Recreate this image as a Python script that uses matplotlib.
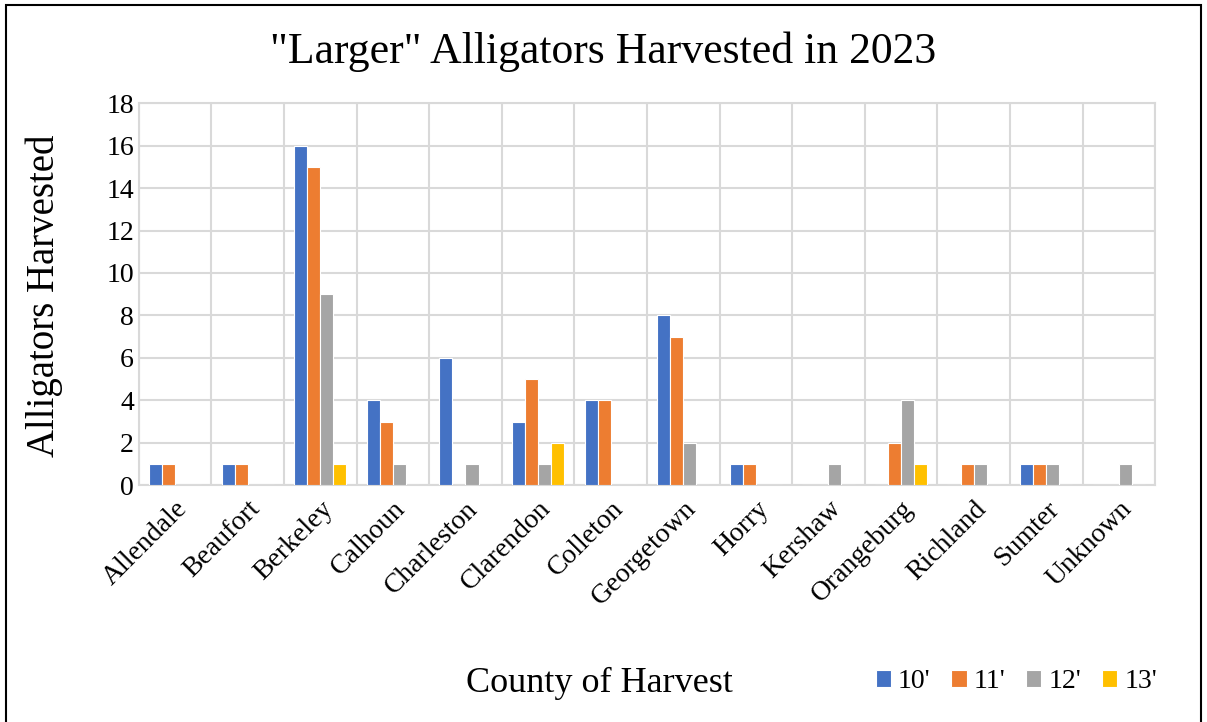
import numpy as np
import matplotlib.pyplot as plt
from matplotlib.patches import Rectangle

plt.rcParams['font.family'] = ['Liberation Serif', 'DejaVu Serif']

# datos
condados = ['Allendale', 'Beaufort', 'Berkeley', 'Calhoun', 'Charleston', 'Clarendon',
            'Colleton', 'Georgetown', 'Horry', 'Kershaw', 'Orangeburg', 'Richland',
            'Sumter', 'Unknown']
tallas = ["10'", "11'", "12'", "13'"]
pies_10 = [1, 1, 16, 4, 6, 3, 4, 8, 1, 0, 0, 0, 1, 0]
pies_11 = [1, 1, 15, 3, 0, 5, 4, 7, 1, 0, 2, 1, 1, 0]
pies_12 = [0, 0, 9, 1, 1, 1, 0, 2, 0, 1, 4, 1, 1, 1]
pies_13 = [0, 0, 1, 0, 0, 2, 0, 0, 0, 0, 1, 0, 0, 0]
colores = ['#4472C4', '#ED7D31', '#A5A5A5', '#FFC000']

fig = plt.figure(figsize=(12.07, 7.22), dpi=100)
ax = fig.add_axes([0.115, 0.328, 0.842, 0.529])

x = np.arange(len(condados))
ancho = 0.18
series = [pies_10, pies_11, pies_12, pies_13]
for i, (vals, col, lab) in enumerate(zip(series, colores, tallas)):
    ax.bar(x + (i - 1.5) * ancho, vals, ancho, color=col, edgecolor='white',
           linewidth=0.8, label=lab, zorder=3)

ax.set_xlim(-0.5, len(condados) - 0.5)
ax.set_ylim(0, 18)
ax.set_yticks(np.arange(0, 19, 2))
ax.set_xticks(x)
ax.set_xticklabels(condados, rotation=45, ha='right', rotation_mode='anchor')
ax.set_xticks(np.arange(-0.5, len(condados), 1), minor=True)
ax.tick_params(axis='both', which='both', length=0, labelsize=20)
ax.tick_params(axis='x', pad=8)
ax.grid(True, which='major', axis='y', color='#d9d9d9', linewidth=1.5, zorder=0)
ax.grid(True, which='minor', axis='x', color='#d9d9d9', linewidth=1.5, zorder=0)
ax.grid(False, which='major', axis='x')
for s in ax.spines.values():
    s.set_color('#d9d9d9')
    s.set_linewidth(1.5)

fig.text(0.037, 0.59, 'Alligators Harvested', fontsize=28, rotation=90,
         ha='center', va='center')
fig.text(0.497, 0.054, 'County of Harvest', fontsize=26, ha='center', va='center')
fig.text(0.5, 0.928, '"Larger" Alligators Harvested in 2023', fontsize=31.5,
         ha='center', va='center')

fig.legend(loc='center', bbox_to_anchor=(0.842, 0.056), ncol=4, frameon=False,
           fontsize=20, handlelength=0.55, handleheight=0.55, handletextpad=0.25,
           columnspacing=0.75)

# marco exterior
fig.patches.append(Rectangle((0.005, -0.01), 0.99, 1.003, transform=fig.transFigure,
                             fill=False, edgecolor='black', linewidth=1.5))

fig.savefig('out.png', dpi=100)
